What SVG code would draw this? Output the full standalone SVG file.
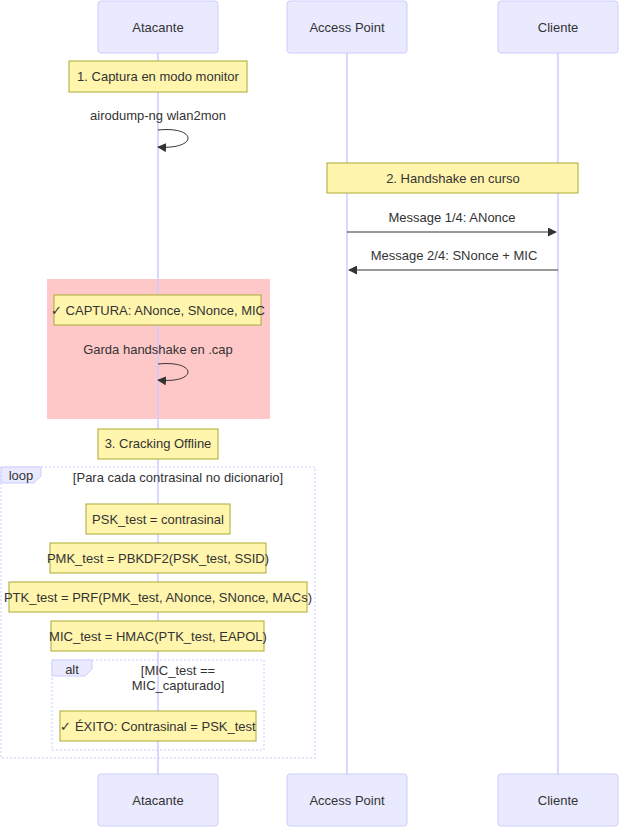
<svg xmlns="http://www.w3.org/2000/svg" width="619" height="827" viewBox="0 0 619 827">
<style>
text{font-family:"Liberation Sans",Arial,sans-serif;font-size:13px;fill:#333;text-anchor:middle}
.actor{fill:#eaeaff;stroke:#ccccff;stroke-width:1}
.note{fill:#fff5ad;stroke:#aaaa33;stroke-width:1}
.life{stroke:#ccccff;stroke-width:1.5}
.msg{stroke:#333;stroke-width:1;fill:none}
.frame{fill:none;stroke:#ccccff;stroke-width:1;stroke-dasharray:2,2}
.lbl{fill:#eaeaff;stroke:#ccccff}
</style>
<defs>
<marker id="ah" viewBox="0 0 10 10" refX="9" refY="5" markerWidth="9" markerHeight="9" orient="auto"><path d="M0,0L10,5L0,10z" fill="#333"/></marker>
</defs>
<rect x="0" y="0" width="619" height="827" fill="#fff"/>
<rect x="47" y="279" width="223" height="140" fill="#ffc8c8"/>
<g id="lifelines">
<line class="life" x1="158" y1="53" x2="158" y2="774"/>
<line class="life" x1="347" y1="53" x2="347" y2="774"/>
<line class="life" x1="558" y1="53" x2="558" y2="774"/>
</g>
<g id="actor-atacante"><rect class="actor" x="98" y="1" width="120" height="52" rx="3"/><text x="158" y="32">Atacante</text></g>
<g id="actor-ap"><rect class="actor" x="287" y="1" width="120" height="52" rx="3"/><text x="347" y="32">Access Point</text></g>
<g id="actor-cliente"><rect class="actor" x="498" y="1" width="120" height="52" rx="3"/><text x="558" y="32">Cliente</text></g>
<g id="actor-atacante-b"><rect class="actor" x="98" y="774" width="120" height="52" rx="3"/><text x="158" y="805">Atacante</text></g>
<g id="actor-ap-b"><rect class="actor" x="287" y="774" width="120" height="52" rx="3"/><text x="347" y="805">Access Point</text></g>
<g id="actor-cliente-b"><rect class="actor" x="498" y="774" width="120" height="52" rx="3"/><text x="558" y="805">Cliente</text></g>
<g id="note1"><rect class="note" x="69" y="61" width="178" height="31"/><text x="158" y="81">1. Captura en modo monitor</text></g>
<g id="note2"><rect class="note" x="327" y="163" width="251" height="30"/><text x="453" y="183">2. Handshake en curso</text></g>
<g id="note3"><rect class="note" x="54" y="295" width="207" height="30"/><text x="158" y="315">✓ CAPTURA: ANonce, SNonce, MIC</text></g>
<g id="note4"><rect class="note" x="98" y="429" width="120" height="30"/><text x="158" y="448">3. Cracking Offline</text></g>
<g id="note5"><rect class="note" x="86" y="504" width="144" height="30"/><text x="158" y="524">PSK_test = contrasinal</text></g>
<g id="note6"><rect class="note" x="50" y="543" width="216" height="30"/><text x="158" y="563">PMK_test = PBKDF2(PSK_test, SSID)</text></g>
<g id="note7"><rect class="note" x="9" y="582" width="298" height="30"/><text x="158" y="602">PTK_test = PRF(PMK_test, ANonce, SNonce, MACs)</text></g>
<g id="note8"><rect class="note" x="51" y="621" width="213" height="30"/><text x="158" y="641">MIC_test = HMAC(PTK_test, EAPOL)</text></g>
<g id="note9"><rect class="note" x="60" y="711" width="196" height="30"/><text x="158" y="731">✓ ÉXITO: Contrasinal = PSK_test</text></g>
<g id="loop">
<rect class="frame" x="1" y="467" width="314" height="291"/>
<path class="lbl" d="M1,467H41V476L34,483H1Z"/>
<text x="21" y="480">loop</text>
<text x="178" y="482">[Para cada contrasinal no dicionario]</text>
</g>
<g id="alt">
<rect class="frame" x="52" y="660" width="212" height="90"/>
<path class="lbl" d="M52,660H92V669L85,676H52Z"/>
<text x="72" y="674">alt</text>
<text x="178" y="675">[MIC_test ==</text>
<text x="178" y="690">MIC_capturado]</text>
</g>
<g id="connectors">
<text x="158" y="120">airodump-ng wlan2mon</text>
<path class="msg" marker-end="url(#ah)" d="M158,130C198,126 198,150 158,147"/>
<text x="452" y="222">Message 1/4: ANonce</text>
<line class="msg" marker-end="url(#ah)" x1="347" y1="232" x2="556" y2="232"/>
<text x="454" y="260">Message 2/4: SNonce + MIC</text>
<line class="msg" marker-end="url(#ah)" x1="558" y1="270" x2="349" y2="270"/>
<text x="158" y="354">Garda handshake en .cap</text>
<path class="msg" marker-end="url(#ah)" d="M158,364C198,360 198,384 158,380"/>
</g>
</svg>
